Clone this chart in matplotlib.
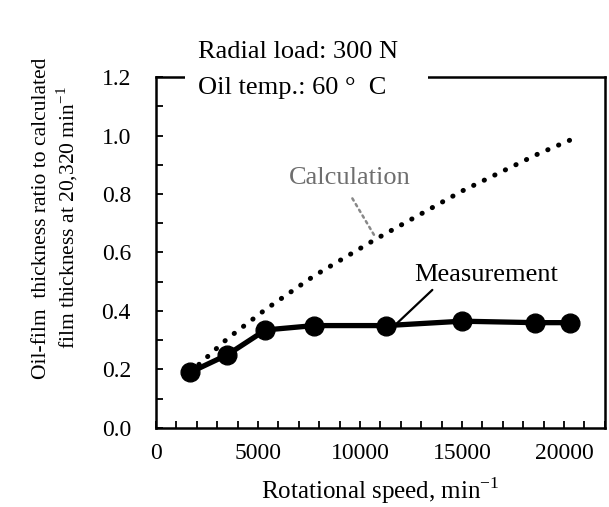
import matplotlib.pyplot as plt
from matplotlib.patches import Rectangle
from matplotlib.ticker import MultipleLocator

plt.rcParams['font.family'] = ['Liberation Serif', 'DejaVu Serif']
plt.rcParams['mathtext.fontset'] = 'custom'
plt.rcParams['mathtext.rm'] = 'Liberation Serif'

# measured oil-film thickness ratio
meas_speed = [1680, 3500, 5370, 7750, 11300, 15000, 18600, 20320]
meas_ratio = [0.19, 0.25, 0.335, 0.35, 0.35, 0.365, 0.36, 0.36]

# calculated ratio
calc_speed = [1680, 3500, 5370, 7750, 10760, 15000, 18670, 20320]
calc_ratio = [0.19, 0.305, 0.405, 0.52, 0.645, 0.81, 0.935, 0.985]

fig = plt.figure(figsize=(6.09, 5.07), dpi=100)
ax = fig.add_axes([0.256, 0.156, 0.737, 0.692])

ax.plot(calc_speed, calc_ratio, color='black', linewidth=3.6,
        linestyle=(0, (0.05, 2.3)), dash_capstyle='round', zorder=2)
ax.plot(meas_speed, meas_ratio, color='black', linewidth=3.8,
        marker='o', markersize=13.5, zorder=3)

ax.set_xlim(0, 22000)
ax.set_ylim(0, 1.2)
ax.xaxis.set_major_locator(MultipleLocator(5000))
ax.xaxis.set_minor_locator(MultipleLocator(1000))
ax.yaxis.set_major_locator(MultipleLocator(0.2))
ax.yaxis.set_minor_locator(MultipleLocator(0.1))
ax.yaxis.set_major_formatter(lambda v, p: '%.1f' % v)
ax.tick_params(which='both', direction='in', length=5, width=1.3,
               labelsize=17)
ax.tick_params(axis='x', pad=11)
ax.tick_params(axis='y', pad=18)
for s in ax.spines.values():
    s.set_linewidth(1.8)

ax.set_xlabel('Rotational speed, min$^{\\mathrm{-1}}$', fontsize=18, labelpad=8)
fig.text(56 / 609, 1 - 218 / 507,
         'Oil-film  thickness ratio to calculated\nfilm thickness at 20,320 min$^{\\mathrm{-1}}$',
         fontsize=15.5, rotation=90, ha='center', va='center',
         multialignment='center')

# annotations
ax.text(9480, 0.855, 'Calculation', fontsize=19, color='#6e6e6e',
        ha='center', va='center')
ax.annotate('', xy=(10760, 0.652), xytext=(9630, 0.785),
            arrowprops=dict(arrowstyle='-', color='#888888', linestyle=':',
                            linewidth=1.8, shrinkA=0, shrinkB=0))
ax.text(16170, 0.523, 'Measurement', fontsize=19, color='black',
        ha='center', va='center')
ax.annotate('', xy=(11820, 0.358), xytext=(13550, 0.472),
            arrowprops=dict(arrowstyle='-', color='black', linewidth=1.6,
                            shrinkA=0, shrinkB=0))

# condition box over the top spine
fig.patches.append(Rectangle((185 / 609, 1 - 100 / 507), 243 / 609, 40 / 507,
                             transform=fig.transFigure, facecolor='white',
                             edgecolor='none', zorder=5))
fig.text(198 / 609, 1 - 52 / 507, 'Radial load: 300 N', fontsize=19,
         ha='left', va='center', zorder=6)
fig.text(198 / 609, 1 - 88 / 507, 'Oil temp.: 60 °  C', fontsize=19,
         ha='left', va='center', zorder=6)

fig.savefig('out.png', dpi=100)
